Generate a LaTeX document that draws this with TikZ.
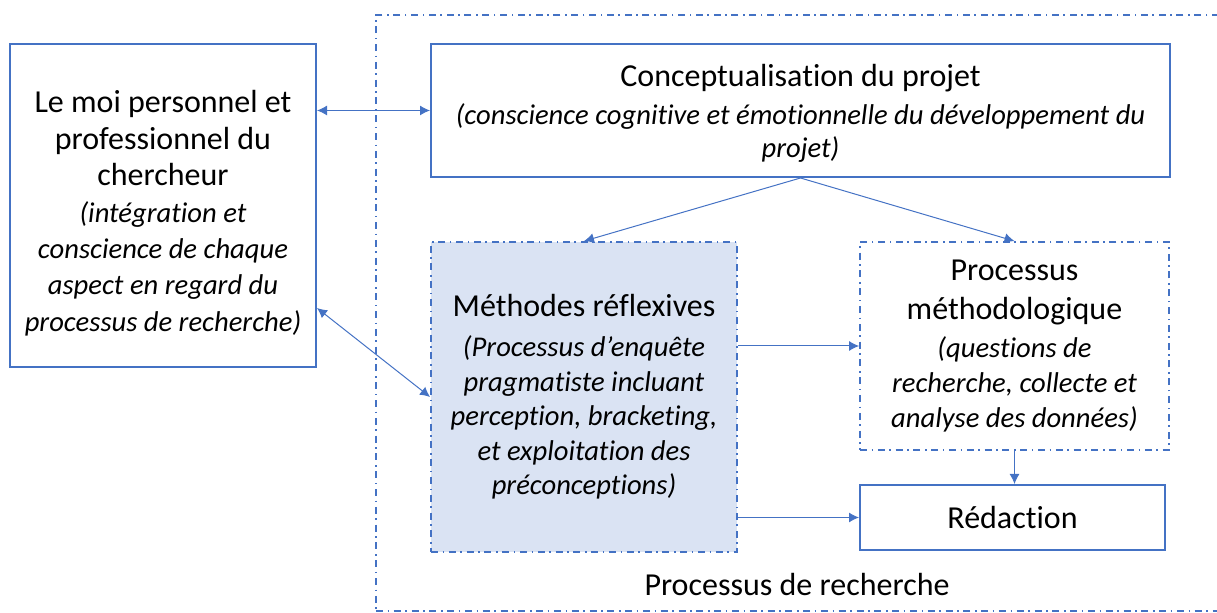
\documentclass[tikz,border=0pt]{standalone}
\usepackage{fontspec}
\setmainfont{Carlito}[Ligatures=CommonOff]
\usetikzlibrary{arrows.meta}
\definecolor{officeblue}{HTML}{4472C4}
\definecolor{paleblue}{HTML}{DAE3F3}
\newcommand{\titre}[1]{{\fontsize{16}{18}\selectfont\upshape #1}}

\begin{document}
\begin{tikzpicture}
	 [x=0.5pt,y=-0.5pt,
	  box/.style={draw=officeblue,line width=1pt,align=center,inner sep=0pt,font=\fontsize{14.3}{17.3}\selectfont\itshape},
	  dotbox/.style={box,line width=0.9pt,dash pattern=on 3.5pt off 2.3pt on 0.8pt off 2.3pt},
	  link/.style={draw=officeblue,line width=0.5pt,-{Latex[length=5pt,width=5pt]}},
	  both/.style={link,{Latex[length=5pt,width=5pt]}-{Latex[length=5pt,width=5pt]}}]

  \clip (0,0) rectangle (1217,613);

  % cadre du processus de recherche
  \node[dotbox,anchor=north west,minimum width=440pt,minimum height=298pt] (cadre) at (375,14) {};
  \node[font=\fontsize{16}{18}\selectfont] (titre) at (797,585) {Processus de recherche};

  \node[box,font=\fontsize{14.3}{18.2}\selectfont\itshape,minimum width=153pt,minimum height=161.5pt] (moi) at (163,205.5)
    {\titre{\rule{0pt}{19pt}Le moi personnel et}\\ \titre{professionnel du}\\ \titre{chercheur}\\
     (intégration et\\ conscience de chaque\\ aspect en regard du\\ processus de recherche)};
  \node[box,font=\fontsize{14.3}{16.5}\selectfont\itshape,minimum width=369.5pt,minimum height=66.5pt] (concept) at (800.5,110.5)
    {\titre{\rule{0pt}{14pt}Conceptualisation du projet}\\[2.5pt]
     (conscience cognitive et émotionnelle du développement du\\ projet)};
  \node[dotbox,fill=paleblue,minimum width=153pt,minimum height=155pt] (methodes) at (584,397)
    {\titre{Méthodes réflexives}\\[2.7pt]
     (Processus d’enquête\\ pragmatiste incluant\\ perception, bracketing,\\ et exploitation des\\ préconceptions)};
  \node[dotbox,minimum width=154.5pt,minimum height=104pt] (procmeth) at (1014.5,346)
    {\titre{Processus}\\[2pt] \titre{méthodologique}\\[2pt]
     (questions de\\ recherche, collecte et\\ analyse des données)};
  \node[box,minimum width=152.5pt,minimum height=32.5pt] (redac) at (1012.5,517.5) {\titre{Rédaction}};

  \draw[both] (moi.east |- concept.west) -- (concept.west);
  \draw[both] ([yshift=-51.25pt]moi.east) -- (methodes.west);
  \foreach \to in {methodes,procmeth}
    \draw[link] (concept.south) -- (\to.north);
  \draw[link] (methodes.east |- procmeth.west) -- (procmeth.west);
  \draw[link] (methodes.east |- redac.west) -- (redac.west);
  \draw[link] (procmeth.south) -- (procmeth.south |- redac.north);

\end{tikzpicture}
\end{document}
